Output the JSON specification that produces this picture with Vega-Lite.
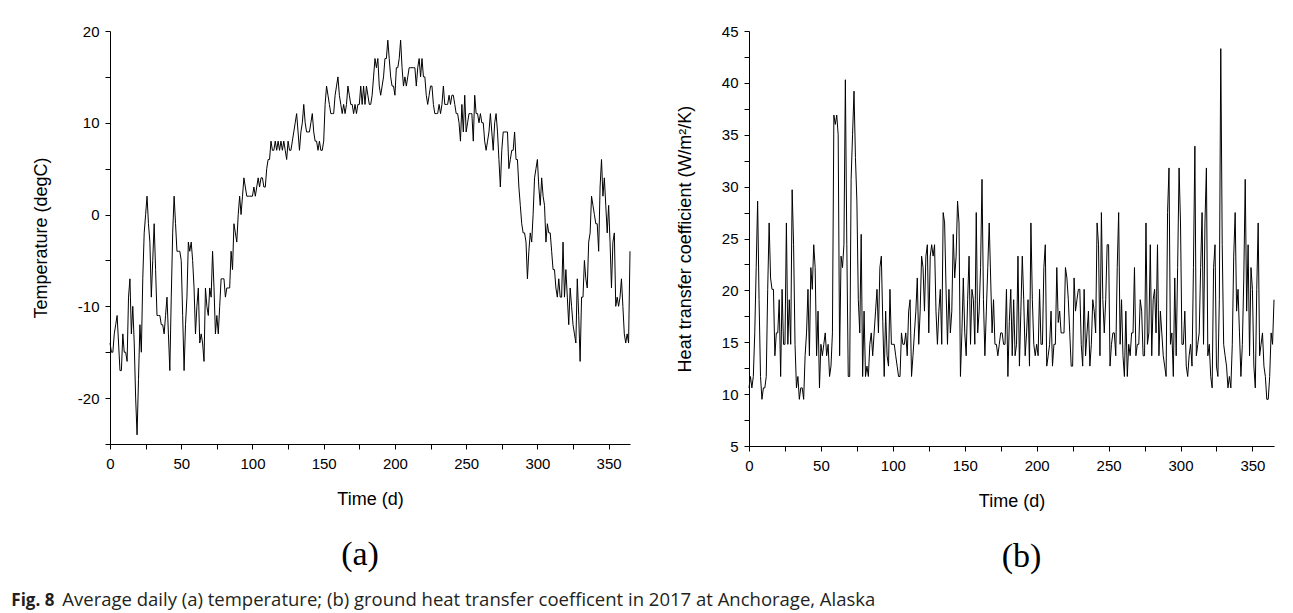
{
"$schema":"https://vega.github.io/schema/vega-lite/v6.json",
"background":"white",
"padding":{"left":11,"top":24,"right":5,"bottom":5},
"datasets":{"daily":[
{"d":0,"t":-14,"h":10.6},{"d":1,"t":-15,"h":11.7},{"d":2,"t":-15,"h":10.6},{"d":3,"t":-13,"h":11.7},{"d":4,"t":-12,"h":15.9},{"d":5,"t":-11,"h":22.2},{"d":6,"t":-14,"h":28.6},{"d":7,"t":-17,"h":19.1},{"d":8,"t":-17,"h":11.7},{"d":9,"t":-13,"h":9.5},
{"d":10,"t":-15,"h":10.6},{"d":11,"t":-15,"h":10.6},{"d":12,"t":-16,"h":11.7},{"d":13,"t":-9,"h":20.1},{"d":14,"t":-7,"h":26.5},{"d":15,"t":-13,"h":21.2},{"d":16,"t":-10,"h":20.1},{"d":17,"t":-14,"h":20.1},{"d":18,"t":-20,"h":13.7},{"d":19,"t":-24,"h":15.9},
{"d":20,"t":-18,"h":15.9},{"d":21,"t":-12,"h":19.1},{"d":22,"t":-15,"h":11.7},{"d":23,"t":-7,"h":20.1},{"d":24,"t":-2,"h":14.8},{"d":25,"t":0,"h":14.8},{"d":26,"t":2,"h":26.5},{"d":27,"t":-1,"h":14.8},{"d":28,"t":-3,"h":19.1},{"d":29,"t":-9,"h":14.8},
{"d":30,"t":-5,"h":29.7},{"d":31,"t":-1,"h":24.4},{"d":32,"t":-6,"h":14.8},{"d":33,"t":-11,"h":10.6},{"d":34,"t":-11,"h":11.7},{"d":35,"t":-11,"h":9.5},{"d":36,"t":-12,"h":10.6},{"d":37,"t":-12,"h":10.6},{"d":38,"t":-13,"h":9.5},{"d":39,"t":-11,"h":13.7},
{"d":40,"t":-9,"h":15.9},{"d":41,"t":-13,"h":20.1},{"d":42,"t":-17,"h":13.7},{"d":43,"t":-9,"h":22.2},{"d":44,"t":-2,"h":20.1},{"d":45,"t":2,"h":24.4},{"d":46,"t":-1,"h":22.2},{"d":47,"t":-4,"h":13.7},{"d":48,"t":-4,"h":18.0},{"d":49,"t":-4,"h":10.6},
{"d":50,"t":-5,"h":14.8},{"d":51,"t":-11,"h":13.7},{"d":52,"t":-17,"h":14.8},{"d":53,"t":-12,"h":15.9},{"d":54,"t":-9,"h":13.7},{"d":55,"t":-3,"h":14.8},{"d":56,"t":-4,"h":11.7},{"d":57,"t":-3,"h":12.7},{"d":58,"t":-5,"h":15.9},{"d":59,"t":-8,"h":36.9},
{"d":60,"t":-13,"h":36.0},{"d":61,"t":-10,"h":36.9},{"d":62,"t":-8,"h":35.0},{"d":63,"t":-14,"h":13.7},{"d":64,"t":-13,"h":23.3},{"d":65,"t":-14,"h":22.2},{"d":66,"t":-16,"h":24.4},{"d":67,"t":-8,"h":40.3},{"d":68,"t":-10,"h":24.4},{"d":69,"t":-11,"h":11.7},
{"d":70,"t":-8,"h":11.7},{"d":71,"t":-9,"h":30.7},{"d":72,"t":-4,"h":35.0},{"d":73,"t":-8,"h":39.2},{"d":74,"t":-13,"h":32.8},{"d":75,"t":-11,"h":28.6},{"d":76,"t":-13,"h":19.1},{"d":77,"t":-10,"h":15.9},{"d":78,"t":-7,"h":25.4},{"d":79,"t":-7,"h":11.7},
{"d":80,"t":-7,"h":18.0},{"d":81,"t":-9,"h":11.7},{"d":82,"t":-8,"h":12.7},{"d":83,"t":-8,"h":11.7},{"d":84,"t":-8,"h":14.8},{"d":85,"t":-4,"h":15.9},{"d":86,"t":-6,"h":13.7},{"d":87,"t":-1,"h":15.9},{"d":88,"t":-2,"h":18.0},{"d":89,"t":-3,"h":20.1},
{"d":90,"t":0,"h":15.9},{"d":91,"t":2,"h":22.2},{"d":92,"t":0,"h":23.3},{"d":93,"t":2,"h":17.0},{"d":94,"t":4,"h":11.7},{"d":95,"t":3,"h":18.0},{"d":96,"t":2,"h":13.7},{"d":97,"t":2,"h":12.7},{"d":98,"t":2,"h":20.1},{"d":99,"t":2,"h":14.8},
{"d":100,"t":2,"h":14.8},{"d":101,"t":3,"h":14.8},{"d":102,"t":2,"h":13.7},{"d":103,"t":3,"h":12.7},{"d":104,"t":4,"h":11.7},{"d":105,"t":3,"h":11.7},{"d":106,"t":4,"h":15.9},{"d":107,"t":4,"h":14.8},{"d":108,"t":3,"h":14.8},{"d":109,"t":3,"h":15.9},
{"d":110,"t":5,"h":13.7},{"d":111,"t":6,"h":18.0},{"d":112,"t":6,"h":19.1},{"d":113,"t":8,"h":11.7},{"d":114,"t":7,"h":13.7},{"d":115,"t":7,"h":15.9},{"d":116,"t":8,"h":18.0},{"d":117,"t":7,"h":21.2},{"d":118,"t":8,"h":14.8},{"d":119,"t":7,"h":18.0},
{"d":120,"t":8,"h":23.3},{"d":121,"t":7,"h":22.2},{"d":122,"t":8,"h":18.0},{"d":123,"t":7,"h":23.3},{"d":124,"t":6,"h":24.4},{"d":125,"t":8,"h":15.9},{"d":126,"t":7,"h":23.3},{"d":127,"t":7,"h":24.4},{"d":128,"t":8,"h":23.3},{"d":129,"t":9,"h":24.4},
{"d":130,"t":10,"h":18.0},{"d":131,"t":11,"h":14.8},{"d":132,"t":9,"h":18.0},{"d":133,"t":7,"h":20.1},{"d":134,"t":9,"h":14.8},{"d":135,"t":10,"h":27.5},{"d":136,"t":12,"h":26.5},{"d":137,"t":10,"h":20.1},{"d":138,"t":9,"h":14.8},{"d":139,"t":9,"h":20.1},
{"d":140,"t":9,"h":15.9},{"d":141,"t":10,"h":18.0},{"d":142,"t":11,"h":25.4},{"d":143,"t":9,"h":21.2},{"d":144,"t":8,"h":23.3},{"d":145,"t":8,"h":28.6},{"d":146,"t":7,"h":26.5},{"d":147,"t":8,"h":11.7},{"d":148,"t":7,"h":15.9},{"d":149,"t":7,"h":21.2},
{"d":150,"t":8,"h":15.9},{"d":151,"t":12,"h":13.7},{"d":152,"t":14,"h":19.1},{"d":153,"t":13,"h":23.3},{"d":154,"t":12,"h":14.8},{"d":155,"t":11,"h":20.1},{"d":156,"t":11,"h":19.1},{"d":157,"t":11,"h":14.8},{"d":158,"t":13,"h":27.5},{"d":159,"t":14,"h":15.9},
{"d":160,"t":15,"h":18.0},{"d":161,"t":13,"h":22.2},{"d":162,"t":12,"h":30.7},{"d":163,"t":11,"h":19.1},{"d":164,"t":12,"h":13.7},{"d":165,"t":11,"h":18.0},{"d":166,"t":12,"h":22.2},{"d":167,"t":14,"h":26.5},{"d":168,"t":13,"h":21.2},{"d":169,"t":12,"h":15.9},
{"d":170,"t":12,"h":19.1},{"d":171,"t":11,"h":14.8},{"d":172,"t":12,"h":14.8},{"d":173,"t":11,"h":13.7},{"d":174,"t":12,"h":14.8},{"d":175,"t":12,"h":15.9},{"d":176,"t":14,"h":15.9},{"d":177,"t":12,"h":14.8},{"d":178,"t":14,"h":14.8},{"d":179,"t":12,"h":20.1},
{"d":180,"t":14,"h":11.7},{"d":181,"t":13,"h":17.0},{"d":182,"t":12,"h":20.1},{"d":183,"t":12,"h":13.7},{"d":184,"t":13,"h":19.1},{"d":185,"t":15,"h":13.7},{"d":186,"t":17,"h":14.8},{"d":187,"t":16,"h":23.3},{"d":188,"t":17,"h":12.7},{"d":189,"t":14,"h":18.0},
{"d":190,"t":13,"h":23.3},{"d":191,"t":14,"h":19.1},{"d":192,"t":15,"h":13.7},{"d":193,"t":17,"h":15.9},{"d":194,"t":17,"h":19.1},{"d":195,"t":19,"h":12.7},{"d":196,"t":17,"h":26.5},{"d":197,"t":15,"h":19.1},{"d":198,"t":14,"h":14.8},{"d":199,"t":14,"h":13.7},
{"d":200,"t":13,"h":14.8},{"d":201,"t":16,"h":13.7},{"d":202,"t":16,"h":20.1},{"d":203,"t":17,"h":14.8},{"d":204,"t":19,"h":14.8},{"d":205,"t":16,"h":22.2},{"d":206,"t":14,"h":24.4},{"d":207,"t":15,"h":12.7},{"d":208,"t":14,"h":13.7},{"d":209,"t":15,"h":14.8},
{"d":210,"t":16,"h":18.0},{"d":211,"t":16,"h":12.7},{"d":212,"t":16,"h":14.8},{"d":213,"t":16,"h":14.8},{"d":214,"t":16,"h":22.2},{"d":215,"t":14,"h":16.9},{"d":216,"t":16,"h":18.0},{"d":217,"t":17,"h":15.9},{"d":218,"t":15,"h":15.9},{"d":219,"t":17,"h":15.9},
{"d":220,"t":15,"h":22.2},{"d":221,"t":15,"h":21.2},{"d":222,"t":13,"h":19.1},{"d":223,"t":12,"h":15.9},{"d":224,"t":13,"h":12.7},{"d":225,"t":14,"h":12.7},{"d":226,"t":14,"h":21.2},{"d":227,"t":12,"h":18.0},{"d":228,"t":11,"h":19.1},{"d":229,"t":11,"h":20.1},
{"d":230,"t":11,"h":20.1},{"d":231,"t":12,"h":14.8},{"d":232,"t":11,"h":12.7},{"d":233,"t":12,"h":20.1},{"d":234,"t":14,"h":13.7},{"d":235,"t":12,"h":15.9},{"d":236,"t":12,"h":18.0},{"d":237,"t":12,"h":12.7},{"d":238,"t":13,"h":14.8},{"d":239,"t":12,"h":19.1},
{"d":240,"t":13,"h":18.0},{"d":241,"t":13,"h":15.9},{"d":242,"t":12,"h":26.5},{"d":243,"t":11,"h":24.4},{"d":244,"t":11,"h":13.7},{"d":245,"t":10,"h":27.5},{"d":246,"t":8,"h":19.1},{"d":247,"t":12,"h":15.9},{"d":248,"t":9,"h":19.1},{"d":249,"t":13,"h":24.4},
{"d":250,"t":9,"h":24.4},{"d":251,"t":10,"h":12.7},{"d":252,"t":11,"h":14.8},{"d":253,"t":11,"h":15.9},{"d":254,"t":11,"h":15.9},{"d":255,"t":8,"h":13.7},{"d":256,"t":13,"h":22.2},{"d":257,"t":11,"h":27.5},{"d":258,"t":11,"h":14.8},{"d":259,"t":10,"h":19.1},
{"d":260,"t":11,"h":13.7},{"d":261,"t":10,"h":11.7},{"d":262,"t":10,"h":18.0},{"d":263,"t":8,"h":11.7},{"d":264,"t":7,"h":14.8},{"d":265,"t":8,"h":13.7},{"d":266,"t":9,"h":15.9},{"d":267,"t":11,"h":15.9},{"d":268,"t":9,"h":22.2},{"d":269,"t":7,"h":13.7},
{"d":270,"t":10,"h":14.8},{"d":271,"t":11,"h":14.8},{"d":272,"t":9,"h":19.1},{"d":273,"t":6,"h":18.0},{"d":274,"t":3,"h":13.7},{"d":275,"t":7,"h":13.7},{"d":276,"t":9,"h":26.5},{"d":277,"t":9,"h":14.8},{"d":278,"t":9,"h":15.9},{"d":279,"t":9,"h":24.4},
{"d":280,"t":5,"h":13.7},{"d":281,"t":6,"h":19.1},{"d":282,"t":7,"h":20.1},{"d":283,"t":7,"h":15.9},{"d":284,"t":9,"h":24.4},{"d":285,"t":6,"h":13.7},{"d":286,"t":6,"h":18.0},{"d":287,"t":3,"h":15.9},{"d":288,"t":1,"h":13.7},{"d":289,"t":-1,"h":12.7},
{"d":290,"t":-2,"h":11.7},{"d":291,"t":-2,"h":27.5},{"d":292,"t":-3,"h":31.8},{"d":293,"t":-7,"h":14.8},{"d":294,"t":-4,"h":15.9},{"d":295,"t":-2,"h":11.7},{"d":296,"t":-3,"h":21.2},{"d":297,"t":0,"h":13.7},{"d":298,"t":4,"h":22.2},{"d":299,"t":5,"h":31.8},
{"d":300,"t":6,"h":26.5},{"d":301,"t":3,"h":14.8},{"d":302,"t":1,"h":14.8},{"d":303,"t":4,"h":18.0},{"d":304,"t":2,"h":12.7},{"d":305,"t":1,"h":11.7},{"d":306,"t":-3,"h":13.7},{"d":307,"t":-1,"h":14.8},{"d":308,"t":-2,"h":12.7},{"d":309,"t":-2,"h":22.2},
{"d":310,"t":-4,"h":33.9},{"d":311,"t":-6,"h":13.7},{"d":312,"t":-6,"h":14.8},{"d":313,"t":-8,"h":15.9},{"d":314,"t":-9,"h":22.2},{"d":315,"t":-7,"h":27.5},{"d":316,"t":-9,"h":14.8},{"d":317,"t":-9,"h":26.5},{"d":318,"t":-3,"h":31.8},{"d":319,"t":-9,"h":13.7},
{"d":320,"t":-6,"h":14.8},{"d":321,"t":-9,"h":11.7},{"d":322,"t":-12,"h":10.6},{"d":323,"t":-8,"h":22.2},{"d":324,"t":-10,"h":24.4},{"d":325,"t":-12,"h":12.7},{"d":326,"t":-13,"h":11.7},{"d":327,"t":-14,"h":19.1},{"d":328,"t":-7,"h":43.3},{"d":329,"t":-11,"h":24.4},
{"d":330,"t":-16,"h":14.8},{"d":331,"t":-9,"h":13.7},{"d":332,"t":-9,"h":12.7},{"d":333,"t":-5,"h":10.6},{"d":334,"t":-7,"h":11.7},{"d":335,"t":-8,"h":10.6},{"d":336,"t":-3,"h":14.8},{"d":337,"t":-2,"h":23.3},{"d":338,"t":2,"h":27.5},{"d":339,"t":1,"h":18.0},
{"d":340,"t":0,"h":20.1},{"d":341,"t":-1,"h":15.9},{"d":342,"t":-1,"h":11.7},{"d":343,"t":-4,"h":14.8},{"d":344,"t":3,"h":21.2},{"d":345,"t":6,"h":30.7},{"d":346,"t":2,"h":18.0},{"d":347,"t":4,"h":24.4},{"d":348,"t":1,"h":13.7},{"d":349,"t":-2,"h":22.2},
{"d":350,"t":1,"h":20.1},{"d":351,"t":-3,"h":12.7},{"d":352,"t":-8,"h":10.6},{"d":353,"t":-3,"h":20.1},{"d":354,"t":-2,"h":26.5},{"d":355,"t":-10,"h":13.7},{"d":356,"t":-9,"h":14.8},{"d":357,"t":-10,"h":15.9},{"d":358,"t":-9,"h":12.7},{"d":359,"t":-7,"h":11.7},
{"d":360,"t":-10,"h":9.5},{"d":361,"t":-13,"h":9.5},{"d":362,"t":-14,"h":11.7},{"d":363,"t":-13,"h":15.9},{"d":364,"t":-14,"h":14.8},{"d":365,"t":-4,"h":19.1}
]},
"config":{
"view":{"stroke":null},
"axis":{"grid":false,"domainColor":"black","domainWidth":1,"tickColor":"black","tickWidth":1,"tickSize":5,"labelColor":"black","titleColor":"black","labelFont":"Liberation Sans","titleFont":"Liberation Sans","labelFontSize":15,"titleFontSize":18,"titleFontWeight":"normal","labelFlush":false,"labelOverlap":false,"labelPadding":6}
},
"title":{"text":"Fig. 8","orient":"bottom","anchor":"start","font":"Open Sans","fontSize":17,"fontWeight":"bold","color":"#231f20","offset":0,"dx":-21,"dy":-17},
"vconcat":[{
"title":{"text":"Average daily (a) temperature; (b) ground heat transfer coefficent in 2017 at Anchorage, Alaska","orient":"bottom","anchor":"start","font":"Open Sans","fontSize":18.5,"fontWeight":"normal","color":"#231f20","offset":17,"dx":30},
"spacing":44,
"hconcat":[
{
"width":520,"height":413,
"data":{"name":"daily"},
"title":{"text":"(a)","orient":"bottom","font":"Liberation Serif","fontSize":34,"fontWeight":"normal","color":"black","offset":30,"dx":-10},
"mark":{"type":"line","color":"black","strokeWidth":1},
"encoding":{
"x":{"field":"d","type":"quantitative","scale":{"domain":[0,365],"nice":false,"zero":false},
"axis":{"title":"Time (d)","values":[0,25,50,75,100,125,150,175,200,225,250,275,300,325,350],"labelExpr":"datum.value % 50 === 0 ? datum.label : ''","labelPadding":7,"titlePadding":19}},
"y":{"field":"t","type":"quantitative","scale":{"domain":[-25,20],"nice":false,"zero":false},
"axis":{"title":"Temperature (degC)","values":[-25,-20,-15,-10,-5,0,5,10,15,20],"labelExpr":"datum.value % 10 === 0 ? toString(datum.value) : ''","titlePadding":27}}
}
},
{
"width":525,"height":415,
"data":{"name":"daily"},
"title":{"text":"(b)","orient":"bottom","font":"Liberation Serif","fontSize":34,"fontWeight":"normal","color":"black","offset":30,"dx":10},
"mark":{"type":"line","color":"black","strokeWidth":1},
"encoding":{
"x":{"field":"d","type":"quantitative","scale":{"domain":[0,365],"nice":false,"zero":false},
"axis":{"title":"Time (d)","values":[0,25,50,75,100,125,150,175,200,225,250,275,300,325,350],"labelExpr":"datum.value % 50 === 0 ? datum.label : ''","labelPadding":7,"titlePadding":19}},
"y":{"field":"h","type":"quantitative","scale":{"domain":[5,45],"nice":false,"zero":false},
"axis":{"title":"Heat transfer coefficient (W/m²/K)","values":[5,7.5,10,12.5,15,17.5,20,22.5,25,27.5,30,32.5,35,37.5,40,42.5,45],"labelExpr":"datum.value % 5 === 0 ? toString(datum.value) : ''","titlePadding":27}}
}
}
]
}]
}
